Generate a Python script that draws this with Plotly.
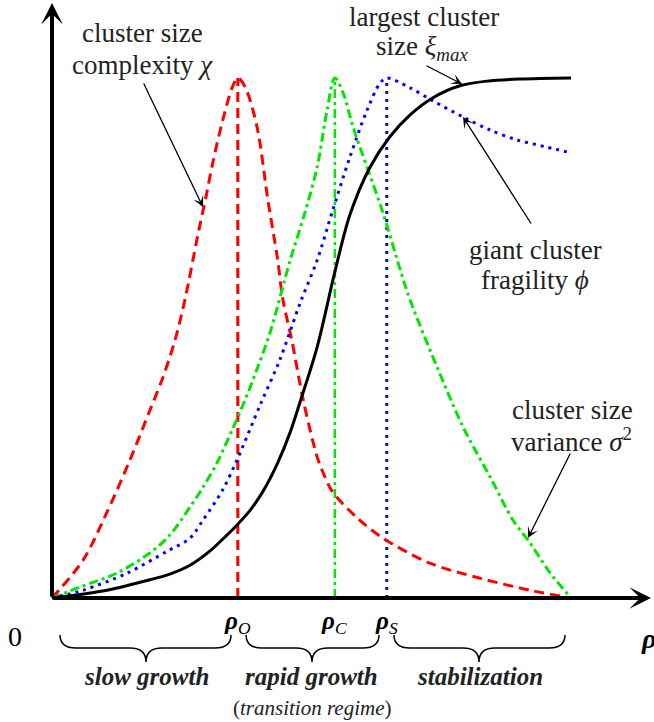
import plotly.graph_objects as go

# ---------------- data (rho normalised so curves end at 1, values normalised to peak = 1) -------------
rho_chi = [0, 0.060, 0.105, 0.150, 0.189, 0.214, 0.237, 0.256, 0.281, 0.297, 0.310, 0.329, 0.347, 0.358,
           0.372, 0.395, 0.416, 0.434, 0.445, 0.462, 0.484, 0.511, 0.525, 0.540, 0.588, 0.638,
           0.728, 0.825, 0.921, 1.0]
chi = [0, 0.073, 0.163, 0.265, 0.362, 0.425, 0.496, 0.573, 0.698, 0.773, 0.838, 0.919, 0.981, 1.0,
       0.983, 0.906, 0.765, 0.656, 0.573, 0.496, 0.381, 0.271, 0.235, 0.205, 0.154, 0.115,
       0.067, 0.038, 0.015, 0]

rho_var = [0, 0.054, 0.125, 0.189, 0.227, 0.266, 0.291, 0.318, 0.347, 0.372, 0.387, 0.420, 0.459,
           0.487, 0.511, 0.530, 0.545, 0.561, 0.580, 0.609, 0.638, 0.671, 0.690, 0.742, 0.792,
           0.844, 0.888, 0.921, 0.960, 1.0]
var = [0, 0.021, 0.048, 0.087, 0.121, 0.175, 0.213, 0.260, 0.323, 0.381, 0.419, 0.510, 0.650,
       0.740, 0.829, 0.938, 1.0, 0.971, 0.906, 0.823, 0.740, 0.631, 0.573, 0.444, 0.329,
       0.233, 0.150, 0.106, 0.048, 0]

rho_phi = [0, 0.060, 0.145, 0.222, 0.266, 0.291, 0.329, 0.358, 0.401, 0.439, 0.478, 0.511, 0.541,
           0.574, 0.607, 0.632, 0.645, 0.690, 0.734, 0.792, 0.844, 0.896, 0.954, 1.0]
phi = [0, 0.015, 0.048, 0.090, 0.115, 0.150, 0.208, 0.269, 0.371, 0.458, 0.567, 0.650, 0.746,
       0.848, 0.938, 0.990, 1.0, 0.981, 0.956, 0.925, 0.900, 0.881, 0.867, 0.856]

rho_xi = [0, 0.106, 0.189, 0.227, 0.266, 0.304, 0.337, 0.358, 0.382, 0.407, 0.434, 0.459, 0.478,
          0.511, 0.545, 0.574, 0.613, 0.651, 0.690, 0.734, 0.786, 0.838, 0.902, 1.0]
xi = [0, 0.015, 0.035, 0.046, 0.063, 0.090, 0.121, 0.142, 0.169, 0.206, 0.258, 0.319, 0.377,
      0.483, 0.627, 0.737, 0.829, 0.887, 0.929, 0.962, 0.985, 0.994, 0.998, 1.0]

rho_O, rho_C, rho_S = 0.358, 0.545, 0.645

RED, GREEN, BLUE = "#ff0000", "#00e600", "#0000ff"
FONT = "Liberation Serif"
TXT = "#222222"

# ---------------- layout helpers (pixel -> data) ----------------
def X(px):
    return (px - 52) / 519.0

def Y(py):
    return (598 - py) / 520.0

fig = go.Figure()

def curve(x, y, color, dash, width=3):
    fig.add_trace(go.Scatter(x=x, y=y, mode="lines", hoverinfo="skip", showlegend=False,
                             line=dict(color=color, width=width, dash=dash, shape="spline", smoothing=0.9)))

def vline(x0, color, dash, width=3):
    fig.add_trace(go.Scatter(x=[x0, x0], y=[0, 1], mode="lines", hoverinfo="skip", showlegend=False,
                             line=dict(color=color, width=width, dash=dash)))

DASH = "10px,6px"
DASHDOT = "9px,4px,3px,4px"
DOT = "3px,5px"

vline(rho_O, RED, DASH)
vline(rho_C, GREEN, DASHDOT, 2.5)
vline(rho_S, BLUE, DOT)
curve(rho_chi, chi, RED, DASH)
curve(rho_var, var, GREEN, DASHDOT)
curve(rho_phi, phi, BLUE, DOT)
curve(rho_xi, xi, "black", "solid", 3)

ann = []

def arrow(tail, head, width=1.3, size=1.4, head_style=3):
    ann.append(dict(x=X(head[0]), y=Y(head[1]), ax=X(tail[0]), ay=Y(tail[1]),
                    xref="x", yref="y", axref="x", ayref="y", text="", showarrow=True,
                    arrowhead=head_style, arrowsize=size, arrowwidth=width, arrowcolor="black",
                    standoff=0, startstandoff=0))

def text(s, px, py, size=27, color=TXT):
    ann.append(dict(x=X(px), y=Y(py), xref="x", yref="y", text=s, showarrow=False,
                    xanchor="center", yanchor="middle", font=dict(family=FONT, size=size, color=color)))

# axes
arrow((52, 598), (651, 598), width=4, size=0.9)
arrow((52, 598), (52, 3), width=4, size=0.9)

# annotation arrows
arrow((143, 82), (203, 207))
arrow((425, 65), (462, 84))
arrow((532, 225), (463, 117))
arrow((571, 452), (528, 538))

# labels
text("cluster size", 142, 33)
text("complexity <i>χ</i>", 142, 65)
text("largest cluster", 424, 17)
text("size <i>ξ<sub>max</sub></i>", 422, 48)
text("giant cluster", 535, 250)
text("fragility <i>ϕ</i>", 535, 280)
text("cluster size", 572, 410)
text("variance <i>σ</i><sup>2</sup>", 571, 440)

text("0", 15, 636, 28, "black")
text("<b><i>ρ</i></b><sub><i>O</i></sub>", 237, 622, 25, "black")
text("<b><i>ρ</i></b><sub><i>C</i></sub>", 334, 622, 25, "black")
text("<b><i>ρ</i></b><sub><i>S</i></sub>", 386, 622, 25, "black")
text("<b><i>ρ</i></b>", 648, 638, 28, "black")

text("<b><i>slow growth</i></b>", 146, 676, 25)
text("<b><i>rapid growth</i></b>", 311, 676, 25)
text("<b><i>stabilization</i></b>", 480, 676, 25)
text("(<i>transition regime</i>)", 312, 708, 21)

# braces
def brace(x0, x1, xm, top=635, mid=648, tip=662, r=16):
    p = [("M", x0, top), ("Q", x0, mid, x0 + r, mid), ("L", xm - r, mid),
         ("Q", xm, mid, xm, tip), ("Q", xm, mid, xm + r, mid), ("L", x1 - r, mid),
         ("Q", x1, mid, x1, top)]
    out = []
    for seg in p:
        cmd = seg[0]
        vals = seg[1:]
        pts = []
        for i in range(0, len(vals), 2):
            pts.append(f"{X(vals[i]):.5f},{Y(vals[i + 1]):.5f}")
        out.append(cmd + " " + " ".join(pts))
    return " ".join(out)

shapes = []
for (a, b, m) in [(60, 231, 146), (246, 379, 312), (394, 565, 479)]:
    shapes.append(dict(type="path", path=brace(a, b, m), xref="x", yref="y",
                       line=dict(color="black", width=1.5)))

fig.update_layout(
    width=654, height=722, margin=dict(l=0, r=0, t=0, b=0),
    paper_bgcolor="white", plot_bgcolor="white",
    xaxis=dict(range=[X(0), X(654)], visible=False, fixedrange=True),
    yaxis=dict(range=[Y(722), Y(0)], visible=False, fixedrange=True),
    annotations=ann, shapes=shapes, showlegend=False,
)

fig.write_html("out.html", config={"displayModeBar": False},
               post_script="document.body.style.margin='0';document.body.style.overflow='hidden';")
